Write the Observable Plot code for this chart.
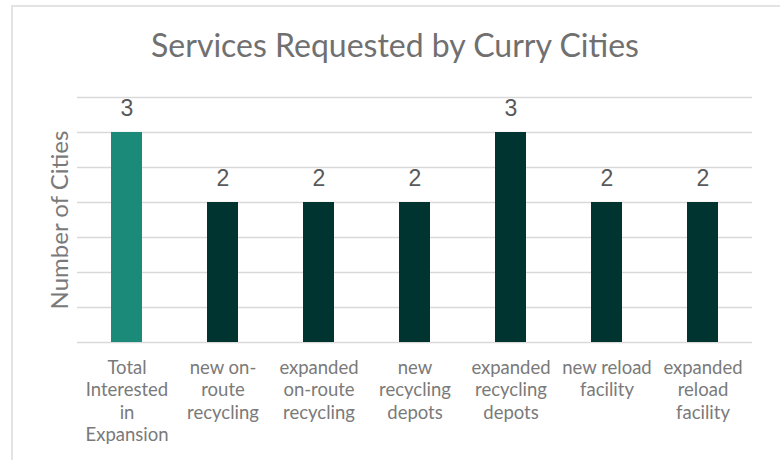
<!DOCTYPE html>
<html>
<head>
<meta charset="utf-8">
<script src="https://cdn.jsdelivr.net/npm/d3@7"></script>
<script src="https://cdn.jsdelivr.net/npm/@observablehq/plot@0.6"></script>
<style>
  html, body { margin: 0; padding: 0; background: #fff; }
  #wrap { position: relative; width: 780px; height: 460px; overflow: hidden; background: #fff; }
  #frame { position: absolute; left: 11px; top: 5px; width: 800px; height: 480px;
           border-top: 2px solid #e3e3e3; border-left: 2px solid #e3e3e3; box-sizing: border-box; }
  #title { position: absolute; left: 0; top: 25px; width: 790px; text-align: center;
           font-family: Lato, sans-serif; font-size: 32px; color: #707070; line-height: 40px; }
  #chart { position: absolute; left: 0; top: 80px; }
</style>
</head>
<body>
<div id="wrap">
  <div id="frame"></div>
  <div id="title">Services Requested by Curry Cities</div>
  <div id="chart"></div>
</div>
<script>
const categories = [
  "Total Interested in Expansion",
  "new on-route recycling",
  "expanded on-route recycling",
  "new recycling depots",
  "expanded recycling depots",
  "new reload facility",
  "expanded reload facility"
];
const tickLabels = [
  "Total\nInterested\nin\nExpansion",
  "new on-\nroute\nrecycling",
  "expanded\non-route\nrecycling",
  "new\nrecycling\ndepots",
  "expanded\nrecycling\ndepots",
  "new reload\nfacility",
  "expanded\nreload\nfacility"
];
const values = [3, 2, 2, 2, 3, 2, 2];
const yTicks = [0, 0.5, 1, 1.5, 2, 2.5, 3, 3.5];
const yLabel = "Number of Cities";

const data = categories.map((c, i) => ({category: c, value: values[i], total: i === 0}));
const labelOf = new Map(categories.map((c, i) => [c, tickLabels[i]]));

const chart = Plot.plot({
  width: 780,
  height: 380,
  marginLeft: 77,
  marginRight: 28,
  marginTop: 17,
  marginBottom: 118,
  style: {fontFamily: "Lato, sans-serif", background: "transparent"},
  x: {domain: categories, paddingInner: 0.68, paddingOuter: 0.34, label: null},
  y: {domain: [0, 3.5], label: null},
  marks: [
    Plot.gridY(yTicks, {stroke: "#d9d9d9", strokeOpacity: 1, strokeWidth: 1.5}),
    Plot.barY(data, {x: "category", y: "value", fill: d => d.total ? "#1b8a78" : "#003430"}),
    Plot.text(data, {x: "category", y: "value", text: d => String(d.value), lineAnchor: "bottom", dy: -17,
      fontSize: 23, fontFamily: "Liberation Sans, Arial, sans-serif", fill: "#595959"}),
    Plot.axisX({tickSize: 0, tickPadding: 16, tickFormat: d => labelOf.get(d), fontSize: 18.5,
      lineHeight: 1.2, fill: "#7a7a7a", label: null}),
    Plot.axisY({ticks: [], label: null}),
    Plot.text([yLabel], {frameAnchor: "left", textAnchor: "middle", rotate: -90, dx: -17, fontSize: 24, fill: "#7a7a7a"})
  ]
});
document.getElementById("chart").appendChild(chart);
</script>
</body>
</html>
